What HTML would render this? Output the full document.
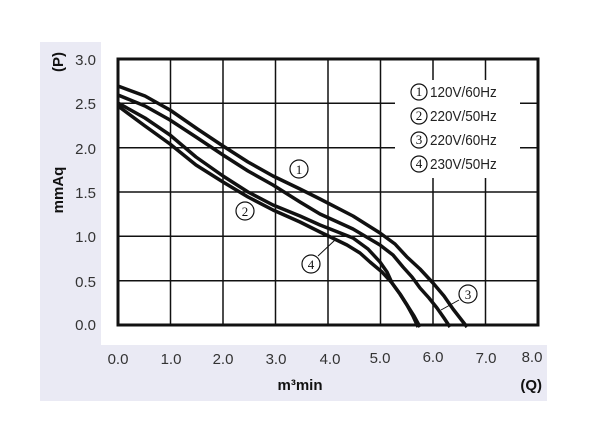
<!DOCTYPE html>
<html><head><style>
body{margin:0;background:#fff;width:600px;height:442px;overflow:hidden}
</style></head><body>
<svg width="600" height="442" xmlns="http://www.w3.org/2000/svg" font-family="Liberation Sans, sans-serif">
<rect x="40" y="42" width="61" height="359" fill="#eaeaf4"/>
<rect x="40" y="345" width="507" height="56" fill="#eaeaf4"/>
<g stroke="#111" stroke-width="1.5">
<line x1="170.5" y1="59" x2="170.5" y2="325"/><line x1="223" y1="59" x2="223" y2="325"/>
<line x1="275.5" y1="59" x2="275.5" y2="325"/><line x1="328" y1="59" x2="328" y2="325"/>
<line x1="380.5" y1="59" x2="380.5" y2="325"/><line x1="433" y1="59" x2="433" y2="325"/>
<line x1="485.5" y1="59" x2="485.5" y2="325"/>
<line x1="118" y1="103.3" x2="538" y2="103.3"/><line x1="118" y1="147.7" x2="538" y2="147.7"/>
<line x1="118" y1="192" x2="538" y2="192"/><line x1="118" y1="236.3" x2="538" y2="236.3"/>
<line x1="118" y1="280.7" x2="538" y2="280.7"/>
</g>
<rect x="118" y="59" width="420" height="266" fill="none" stroke="#111" stroke-width="3"/>
<rect x="395" y="80" width="125" height="98" fill="#fff"/>
<g fill="none" stroke="#111" stroke-width="3.5" stroke-linejoin="round">
<polyline points="118,86 145,96 170,110 196,128 223,146 248,162 273,176 300,189 320,199 353,216 380,233 395,244 407,257 420,269 433,283 444,296 453,309 460,318 467,327"/>
<polyline points="118,95 145,106 170,120 196,137 223,155 248,171 273,185 300,202 320,214 353,229 380,245 393,255 403,267 412,277 420,288 429,298 437,308 444,318 450,327"/>
<polyline points="118,103 145,118 170,135 196,157 223,176 248,192 273,205 300,216 320,225 353,238 368,249 380,262 387,272 392,283 400,294 407,305 414,316 420,327"/>
<polyline points="118,106 145,126 170,144 196,165 223,182 248,197 273,210 300,222 320,232 347,245 360,253 370,262 382,272 392,283 400,294 407,305 413,316 418,327"/>
</g>
<g stroke="#111" stroke-width="1"><line x1="318" y1="256" x2="335" y2="240"/><line x1="459" y1="300" x2="441" y2="310"/></g>
<g fill="#fff" stroke="#111" stroke-width="1.2">
<circle cx="299" cy="169" r="9"/><circle cx="245" cy="211" r="9"/><circle cx="311" cy="264" r="9"/><circle cx="468" cy="294" r="9"/>
<circle cx="419" cy="92" r="8"/><circle cx="419" cy="116" r="8"/><circle cx="419" cy="140" r="8"/><circle cx="419" cy="164" r="8"/>
</g>
<g font-family="Liberation Serif, serif" font-size="13" text-anchor="middle" fill="#111">
<text x="299" y="174">1</text><text x="245" y="216">2</text><text x="311" y="269">4</text><text x="468" y="299">3</text>
<text x="419" y="96">1</text><text x="419" y="120">2</text><text x="419" y="144">3</text><text x="419" y="168">4</text>
</g>
<g font-size="15" fill="#222" transform="translate(430,0) scale(0.9,1)">
<text x="0" y="97">120V/60Hz</text><text x="0" y="121">220V/50Hz</text>
<text x="0" y="145">220V/60Hz</text><text x="0" y="169">230V/50Hz</text>
</g>
<g font-size="15" fill="#333" text-anchor="end">
<text x="96" y="65">3.0</text><text x="96" y="109">2.5</text><text x="96" y="154">2.0</text>
<text x="96" y="198">1.5</text><text x="96" y="242">1.0</text><text x="96" y="287">0.5</text><text x="96" y="330">0.0</text>
</g>
<g font-size="15" fill="#333" text-anchor="middle">
<text x="118" y="364">0.0</text><text x="171" y="364">1.0</text><text x="223" y="364">2.0</text>
<text x="276" y="364">3.0</text><text x="330" y="364">4.0</text><text x="380" y="363">5.0</text>
<text x="433" y="362">6.0</text><text x="486" y="363">7.0</text><text x="532" y="362">8.0</text>
</g>
<g font-size="15" font-weight="bold" fill="#111">
<text x="300" y="390" text-anchor="middle">m³min</text>
<text x="542" y="390" text-anchor="end">(Q)</text>
<text transform="translate(63,190) rotate(-90)" text-anchor="middle">mmAq</text>
<text transform="translate(63,62) rotate(-90)" text-anchor="middle">(P)</text>
</g>
</svg>
</body></html>
